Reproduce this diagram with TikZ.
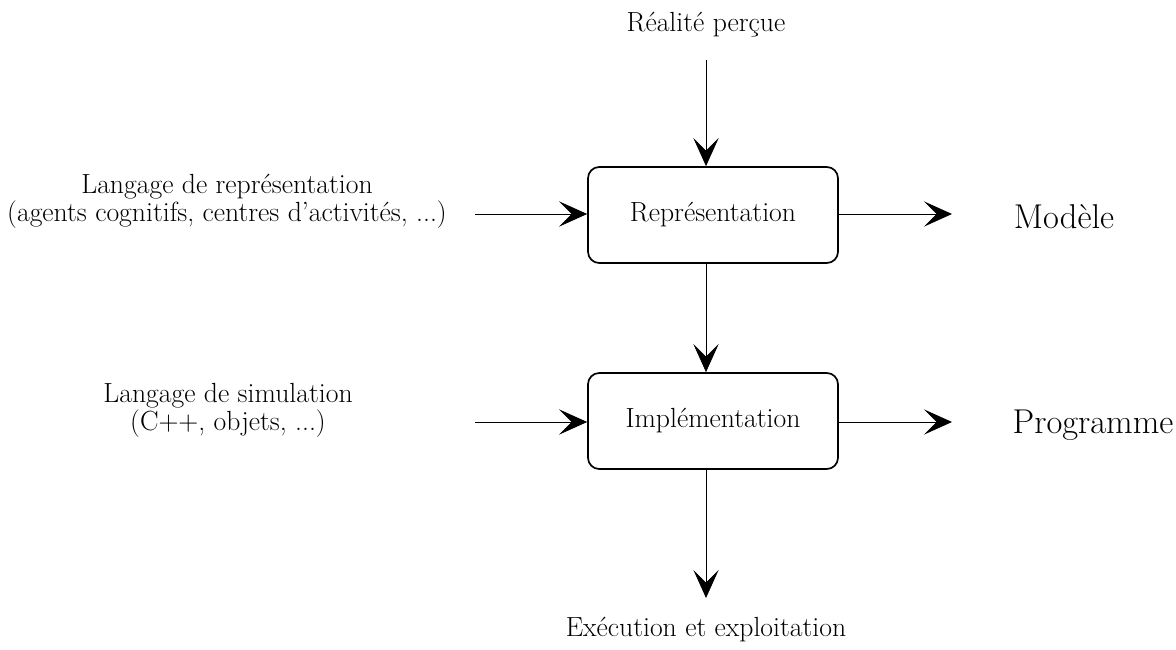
\documentclass[tikz,border=0pt]{standalone}
\usepackage{tikz}
\usetikzlibrary{arrows.meta, positioning}

\tikzset{
    etape/.style={draw, line width=1.2pt, rounded corners=8pt, minimum width=250*0.025cm,
        minimum height=96*0.025cm, font=\fontsize{19.7}{20}\selectfont},
    texte/.style={font=\fontsize{19.7}{20}\selectfont, align=center},
    grand/.style={font=\fontsize{24.5}{28}\selectfont},
    fleche/.style={-{Stealth[length=20pt, width=18pt, inset=9pt]}, semithick}
}

\begin{document}
\begin{tikzpicture}[x=0.025cm, y=-0.025cm]

    \useasboundingbox (0,0) rectangle (1176,650);

    % =================================================================
    % 1. LES DEUX ETAPES
    % =================================================================
    \node[etape] (repr) at (713, 215) {Représentation};
    \node[etape] (impl) at (713, 421) {Implémentation};

    % =================================================================
    % 2. LES TEXTES AUTOUR
    % =================================================================
    \node[texte] (reel) at (706, 25) {Réalité perçue};
    \node[texte] (langrep) at (227, 201)
        {Langage de représentation\\(agents cognitifs, centres d'activités, ...)};
    \node[texte] (langsim) at (228, 410)
        {Langage de simulation\\(C++, objets, ...)};
    \node[grand] (modele) at (1064, 217) {Modèle};
    \node[grand] (prog) at (1093, 425) {Programme};
    \node[texte] (exec) at (706, 630) {Exécution et exploitation};

    % points libres des fleches
    \coordinate (hautR) at (706, 60);
    \coordinate (gaucheR) at (475, 214);
    \coordinate (droiteR) at (952, 214);
    \coordinate (gaucheI) at (475, 422);
    \coordinate (droiteI) at (952, 422);
    \coordinate (basI) at (706, 598);

    % =================================================================
    % 3. LES FLECHES
    % =================================================================
    \draw[fleche] (hautR) -- (hautR |- repr.north);
    \draw[fleche] (gaucheR) -- (gaucheR -| repr.west);
    \draw[fleche] (repr.east |- droiteR) -- (droiteR);
    \draw[fleche] (hautR |- repr.south) -- (hautR |- impl.north);
    \draw[fleche] (gaucheI) -- (gaucheI -| impl.west);
    \draw[fleche] (impl.east |- droiteI) -- (droiteI);
    \draw[fleche] (hautR |- impl.south) -- (basI);

\end{tikzpicture}
\end{document}
